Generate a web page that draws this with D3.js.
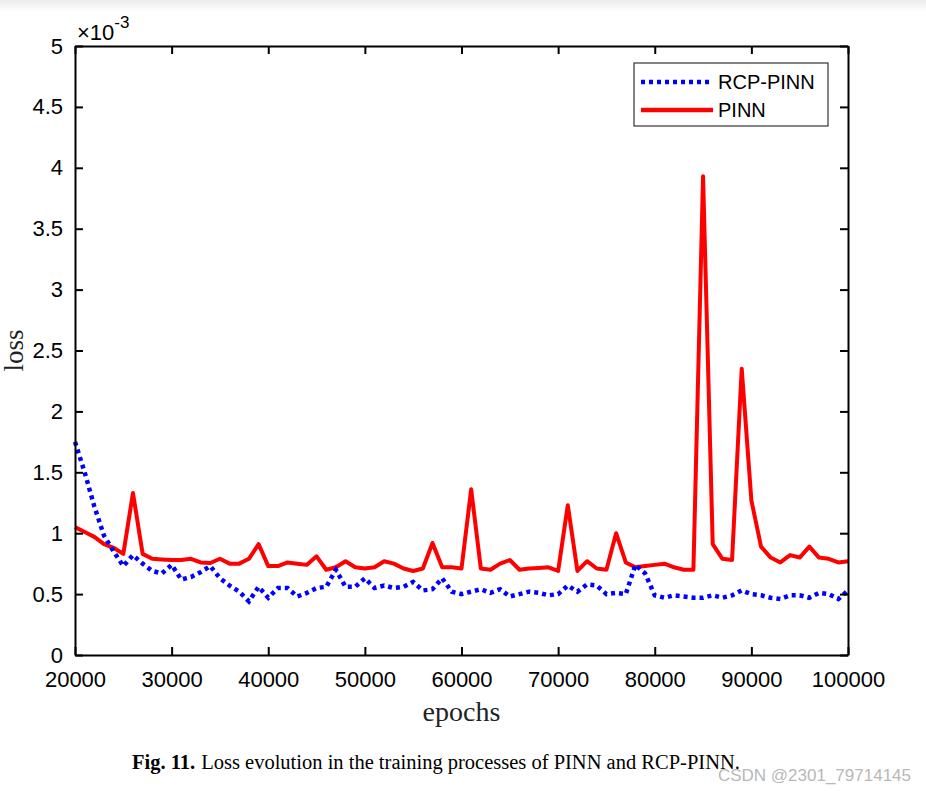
<!DOCTYPE html>
<html><head><meta charset="utf-8">
<script src="https://cdn.jsdelivr.net/npm/d3@7"></script>
<style>body{margin:0;background:#fff;}svg{display:block;}</style>
</head><body>
<script>
const epochs = d3.range(20000, 100001, 1000);
const pinn = [1.05,1.01,0.97,0.91,0.88,0.83,1.33,0.83,0.79,0.785,0.78,0.78,0.79,0.76,0.755,0.79,0.75,0.75,0.79,0.91,
0.73,0.73,0.76,0.75,0.74,0.81,0.70,0.72,0.77,0.72,0.71,0.72,0.77,0.75,0.71,0.69,0.71,0.92,0.72,0.72,
0.71,1.36,0.71,0.70,0.75,0.78,0.70,0.71,0.715,0.72,0.69,1.23,0.69,0.77,0.71,0.70,1.00,0.76,0.72,0.73,
0.74,0.75,0.72,0.70,0.70,3.93,0.91,0.79,0.78,2.35,1.27,0.89,0.80,0.76,0.82,0.80,0.89,0.80,0.79,0.76,0.77];
const rcp = [1.75,1.50,1.22,0.98,0.85,0.73,0.82,0.75,0.69,0.67,0.74,0.62,0.64,0.68,0.73,0.63,0.57,0.52,0.44,0.56,
0.47,0.55,0.55,0.48,0.51,0.55,0.56,0.70,0.56,0.56,0.63,0.55,0.57,0.55,0.56,0.60,0.53,0.54,0.63,0.52,
0.50,0.52,0.54,0.51,0.54,0.48,0.50,0.52,0.51,0.49,0.50,0.57,0.52,0.58,0.57,0.50,0.51,0.50,0.74,0.67,
0.49,0.47,0.49,0.48,0.47,0.47,0.49,0.47,0.49,0.53,0.50,0.49,0.47,0.46,0.49,0.49,0.47,0.51,0.50,0.46,0.53];
const xTicks = [20000,30000,40000,50000,60000,70000,80000,90000,100000];
const yTicks = [0,0.5,1,1.5,2,2.5,3,3.5,4,4.5,5];
const seriesNames = ["RCP-PINN","PINN"];

const W = 926, H = 793;
const L = 75, R = 848, T = 46, B = 655;
const svg = d3.select("body").append("svg").attr("width", W).attr("height", H);

// faint top gradient band
const defs = svg.append("defs");
const g0 = defs.append("linearGradient").attr("id","topg").attr("x1",0).attr("y1",0).attr("x2",0).attr("y2",1);
g0.append("stop").attr("offset",0).attr("stop-color","#ececec");
g0.append("stop").attr("offset",1).attr("stop-color","#ffffff");
svg.append("rect").attr("x",0).attr("y",0).attr("width",W).attr("height",12).attr("fill","url(#topg)");

const x = d3.scaleLinear().domain([20000,100000]).range([L,R]);
const y = d3.scaleLinear().domain([0,5]).range([B,T]);

const font = "Liberation Sans, Arial, Helvetica, sans-serif";
const serif = "Liberation Serif, Times New Roman, serif";

// lines
const line = d3.line().x((d,i)=>x(epochs[i])).y(d=>y(d));
svg.append("path").datum(pinn).attr("d", line).attr("fill","none")
  .attr("stroke","#ff0000").attr("stroke-width",4).attr("stroke-linejoin","round");
svg.append("path").datum(rcp).attr("d", line).attr("fill","none")
  .attr("stroke","#0000ff").attr("stroke-width",4.5).attr("stroke-dasharray","4,4");

// axes (MATLAB style: ticks inside, box)
const tl = 8;
const xb = svg.append("g").attr("transform",`translate(0,${B})`)
  .call(d3.axisBottom(x).tickValues(xTicks).tickFormat(d3.format("d")).tickSizeInner(-tl).tickSizeOuter(0).tickPadding(16));
const xt = svg.append("g").attr("transform",`translate(0,${T})`)
  .call(d3.axisTop(x).tickValues(xTicks).tickFormat("").tickSizeInner(-tl).tickSizeOuter(0));
const yl = svg.append("g").attr("transform",`translate(${L},0)`)
  .call(d3.axisLeft(y).tickValues(yTicks).tickFormat(d=>String(d)).tickSizeInner(-tl).tickSizeOuter(0).tickPadding(12));
const yr = svg.append("g").attr("transform",`translate(${R},0)`)
  .call(d3.axisRight(y).tickValues(yTicks).tickFormat("").tickSizeInner(-tl).tickSizeOuter(0));
[xb,xt,yl,yr].forEach(g=>{
  g.selectAll(".domain").attr("stroke","#000").attr("stroke-width",2);
  g.selectAll(".tick line").attr("stroke","#000").attr("stroke-width",2);
  g.selectAll("text").attr("font-family",font).attr("font-size",22).attr("fill","#000");
});

// exponent label
const ex = svg.append("text").attr("x",77).attr("y",40).attr("font-family",font).attr("font-size",22).attr("fill","#000");
ex.append("tspan").text("\u00d710");
ex.append("tspan").attr("dy",-12).attr("font-size",17).text("-3");

// axis titles
svg.append("text").attr("x",(L+R)/2).attr("y",721).attr("text-anchor","middle")
  .attr("font-family",serif).attr("font-size",28).attr("fill","#222").text("epochs");
svg.append("text").attr("transform",`translate(23,${(T+B)/2}) rotate(-90)`).attr("text-anchor","middle")
  .attr("font-family",serif).attr("font-size",27).attr("fill","#222").text("loss");

// legend
const lg = svg.append("g");
lg.append("rect").attr("x",634).attr("y",63).attr("width",194).attr("height",63)
  .attr("fill","#fff").attr("stroke","#333").attr("stroke-width",1.2);
const legendItems = [{name:seriesNames[0], color:"#0000ff", dash:"4,4", yy:82},{name:seriesNames[1], color:"#ff0000", dash:null, yy:110}];
legendItems.forEach(it=>{
  lg.append("line").attr("x1",641).attr("x2",713).attr("y1",it.yy).attr("y2",it.yy)
    .attr("stroke",it.color).attr("stroke-width",4.5).attr("stroke-dasharray",it.dash);
  lg.append("text").attr("x",718).attr("y",it.yy+7).attr("font-family",font).attr("font-size",20)
    .attr("fill","#000").text(it.name);
});

// caption
const cap = svg.append("text").attr("x",132).attr("y",769).attr("font-family",serif).attr("font-size",20.5).attr("fill","#000");
cap.append("tspan").attr("font-weight","bold").text("Fig. 11.");
cap.append("tspan").attr("dx",6).text("Loss evolution in the training processes of PINN and RCP-PINN.");

// watermark
svg.append("text").attr("x",911).attr("y",781).attr("text-anchor","end").attr("font-family",font)
  .attr("font-size",17).attr("fill","#b8b8b8").text("CSDN @2301_79714145");
</script>
</body></html>
